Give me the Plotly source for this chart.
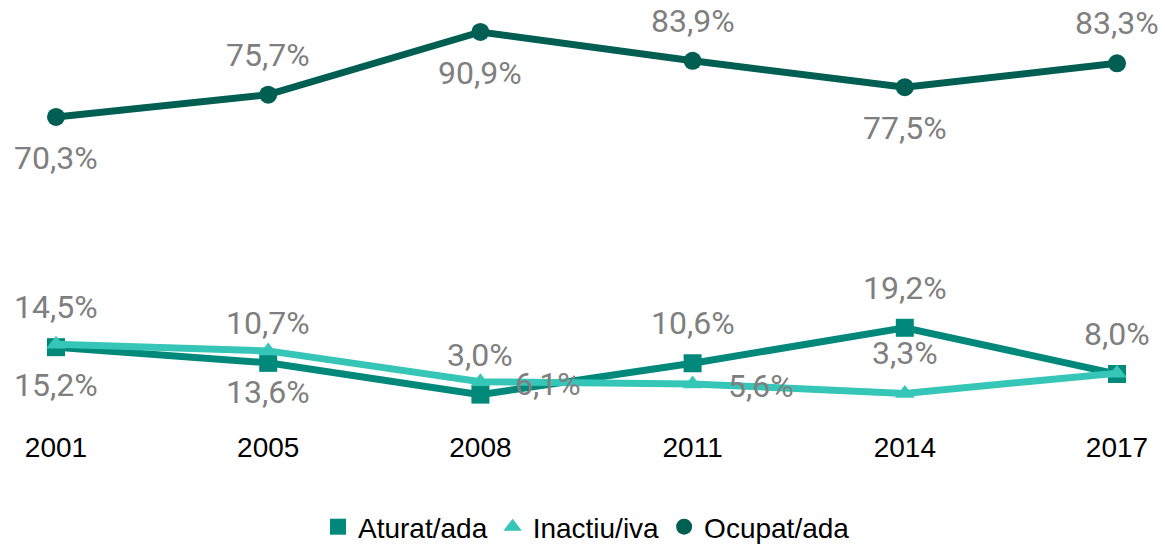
import plotly.graph_objects as go

years = ["2001", "2005", "2008", "2011", "2014", "2017"]
aturat = [14.5, 10.7, 3.0, 10.6, 19.2, 8.0]
inactiu = [15.2, 13.6, 6.1, 5.6, 3.3, 8.2]
ocupat = [70.3, 75.7, 90.9, 83.9, 77.5, 83.3]

aturat_labels = ["14,5%", "10,7%", "3,0%", "10,6%", "19,2%", "8,0%"]
inactiu_labels = ["15,2%", "13,6%", "6,1%", "5,6%", "3,3%", ""]
ocupat_labels = ["70,3%", "75,7%", "90,9%", "83,9%", "77,5%", "83,3%"]

aturat_pos = ["top", "top", "top", "top", "top", "top"]
inactiu_pos = ["bottom", "bottom", "right", "right", "top", "top"]
ocupat_pos = ["bottom", "top", "bottom", "top", "bottom", "top"]

names = ["Aturat/ada", "Inactiu/iva", "Ocupat/ada"]
colors = ["#00897b", "#35c6b8", "#005e52"]
symbols = ["square", "triangle-up", "circle"]
msizes = [18, 17, 18]
series = [aturat, inactiu, ocupat]
labels = [aturat_labels, inactiu_labels, ocupat_labels]
positions = [aturat_pos, inactiu_pos, ocupat_pos]

fig = go.Figure()
for name, col, sym, ms, vals in zip(names, colors, symbols, msizes, series):
    fig.add_trace(go.Scatter(
        x=years, y=vals, mode="lines+markers", name=name,
        line=dict(color=col, width=7),
        marker=dict(symbol=sym, size=ms, color=col),
        showlegend=False, cliponaxis=False, hoverinfo="skip"))
for name, col, sym in zip(names, colors, symbols):
    fig.add_trace(go.Scatter(
        x=[None], y=[None], mode="markers", name=name,
        marker=dict(symbol=sym, size=22, color=col), showlegend=True))

annotations = []
for vals, labs, poss in zip(series, labels, positions):
    for i, (v, t, p) in enumerate(zip(vals, labs, poss)):
        if not t:
            continue
        a = dict(x=i, y=v, xref="x", yref="y", text=t, showarrow=False,
                 font=dict(family="Roboto", size=32, color="#7f7f7f"))
        if p == "top":
            a.update(yshift=40, xanchor="center", yanchor="middle")
        elif p == "bottom":
            a.update(yshift=-41, xanchor="center", yanchor="middle")
        else:
            a.update(xshift=33, yshift=-2, xanchor="left", yanchor="middle")
        annotations.append(a)

T, B = 0, 428
ppu = 4.126
y0 = 407
fig.update_layout(
    width=1165, height=546,
    margin=dict(l=56, r=48, t=T, b=546 - B, autoexpand=False),
    paper_bgcolor="white", plot_bgcolor="white",
    xaxis=dict(type="category", range=[0, 5], showgrid=False, zeroline=False,
               showline=False, ticks="", automargin=False,
               tickfont=dict(family="Liberation Sans, Arial", size=28, color="#000000")),
    yaxis=dict(range=[(y0 - B) / ppu, (y0 - T) / ppu], visible=False),
    legend=dict(orientation="h", x=0.5, xanchor="center",
                yref="container", y=1 - 527 / 546, yanchor="middle",
                font=dict(family="Liberation Sans, Arial", size=28, color="#000000"),
                itemsizing="trace", tracegroupgap=0),
    annotations=annotations,
    showlegend=True,
)

fig.write_html("out.html", post_script="document.body.style.margin='0';",
               config={"displayModeBar": False})
